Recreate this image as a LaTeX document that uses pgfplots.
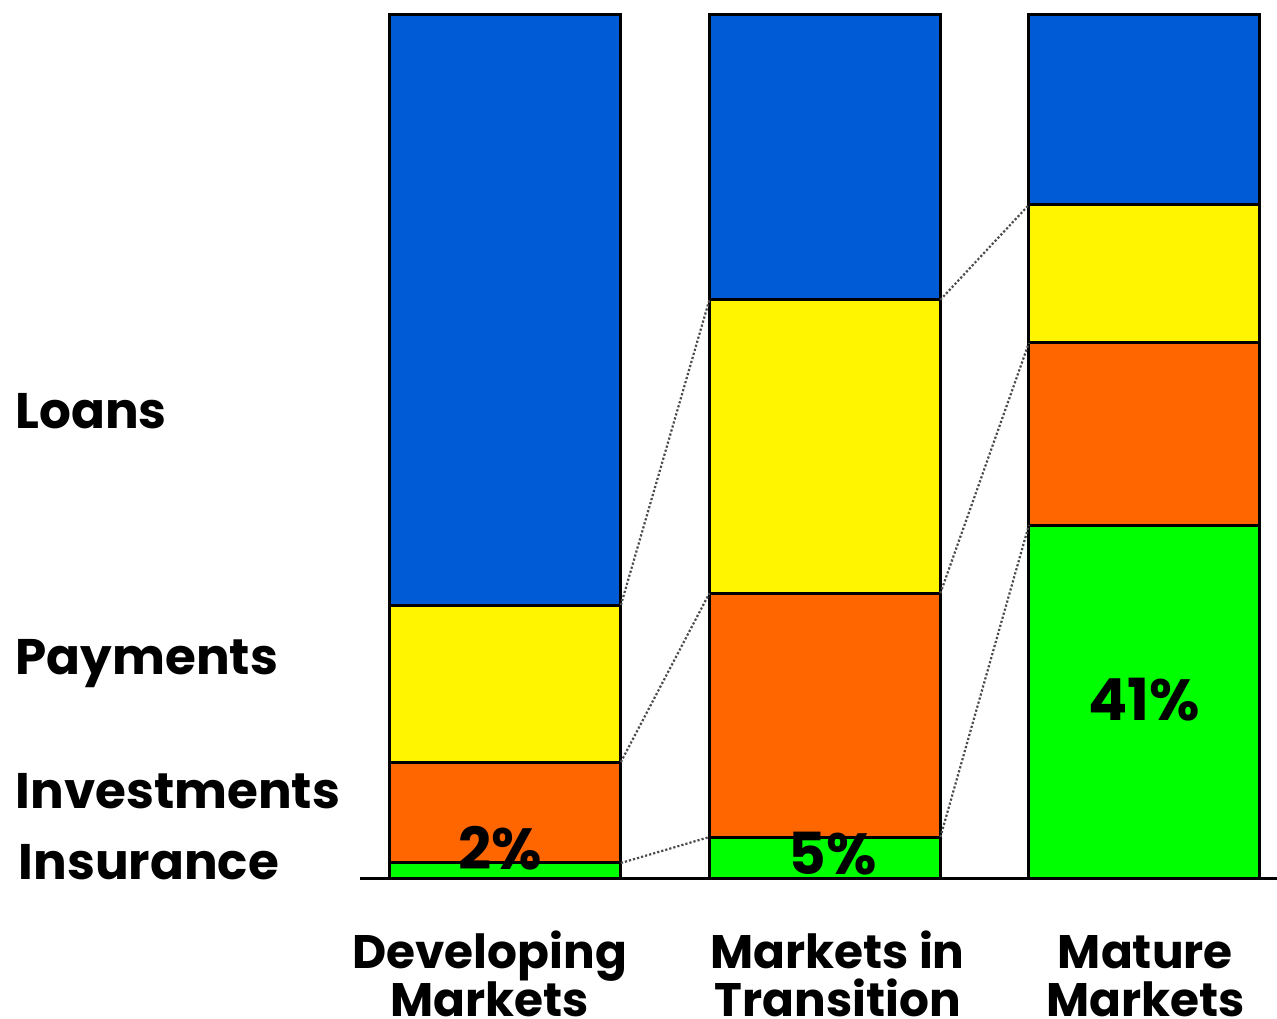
\documentclass[border=0pt]{standalone}
\usepackage{fontspec}
\setmainfont{Poppins}
\usepackage{pgfplots}
\pgfplotsset{compat=1.18}
\definecolor{cLoan}{RGB}{0,91,214}
\definecolor{cPay}{RGB}{255,245,0}
\definecolor{cInv}{RGB}{255,102,0}
\definecolor{cIns}{RGB}{0,255,0}
\tikzset{lab/.style={font=\bfseries\fontsize{25}{25}\selectfont, anchor=base west},
  pct/.style={font=\bfseries\fontsize{29}{29}\selectfont, anchor=base},
  cat/.style={font=\bfseries\fontsize{23.5}{24}\selectfont, anchor=base}}
\begin{document}
\begin{tikzpicture}
\path[use as bounding box] (-180pt,-70pt) rectangle (458.5pt,439pt);
\clip (-180pt,-70pt) rectangle (458.5pt,439pt);
\pgfplotsset{base/.style={scale only axis, width=458.5pt, height=431.5pt,
  xmin=-0.455, xmax=2.415, ymin=0, ymax=100, at={(0,0)}, anchor=south west, clip=false}}
\begin{axis}[base, ybar stacked, bar width=0.723,
  axis y line=none, axis x line=bottom, x axis line style={-, line width=1.5pt},
  xtick=\empty, ytick=\empty]
\addplot[fill=cIns, draw=black, line width=1.5pt] coordinates {(0,1.74) (1,4.75) (2,40.9)};
\addplot[fill=cInv, draw=black, line width=1.5pt] coordinates {(0,11.70) (1,28.25) (2,21.1)};
\addplot[fill=cPay, draw=black, line width=1.5pt] coordinates {(0,18.19) (1,34.0) (2,16.0)};
\addplot[fill=cLoan, draw=black, line width=1.5pt] coordinates {(0,68.37) (1,33.0) (2,22.0)};
\end{axis}
\begin{axis}[base, hide axis]
\addplot[black!70, densely dotted, line width=1.1pt] coordinates {(0.3615,1.74) (0.6385,4.75)};
\addplot[black!70, densely dotted, line width=1.1pt] coordinates {(0.3615,13.44) (0.6385,33.0)};
\addplot[black!70, densely dotted, line width=1.1pt] coordinates {(0.3615,31.63) (0.6385,67.0)};
\addplot[black!70, densely dotted, line width=1.1pt] coordinates {(1.3615,4.75) (1.6385,40.9)};
\addplot[black!70, densely dotted, line width=1.1pt] coordinates {(1.3615,33.0) (1.6385,62.0)};
\addplot[black!70, densely dotted, line width=1.1pt] coordinates {(1.3615,67.0) (1.6385,78.0)};
\node[lab] at (axis cs:-1.555,52.1) {Loans};
\node[lab] at (axis cs:-1.555,23.6) {Payments};
\node[lab] at (axis cs:-1.555,8.0) {Investments};
\node[lab] at (axis cs:-1.545,-0.2) {Insurance};
\node[pct] at (axis cs:-0.017,0.93) {2\%};
\node[pct] at (axis cs:1.025,0.46) {5\%};
\node[pct] at (axis cs:2,18.3) {41\%};
\node[cat, yshift=-45pt] at (axis cs:-0.049,0) {Developing};
\node[cat, yshift=-69pt] at (axis cs:-0.049,0) {Markets};
\node[cat, yshift=-45pt] at (axis cs:1.04,0) {Markets in};
\node[cat, yshift=-69pt] at (axis cs:1.04,0) {Transition};
\node[cat, yshift=-45pt] at (axis cs:2.003,0) {Mature};
\node[cat, yshift=-69pt] at (axis cs:2.003,0) {Markets};
\end{axis}
\end{tikzpicture}
\end{document}
